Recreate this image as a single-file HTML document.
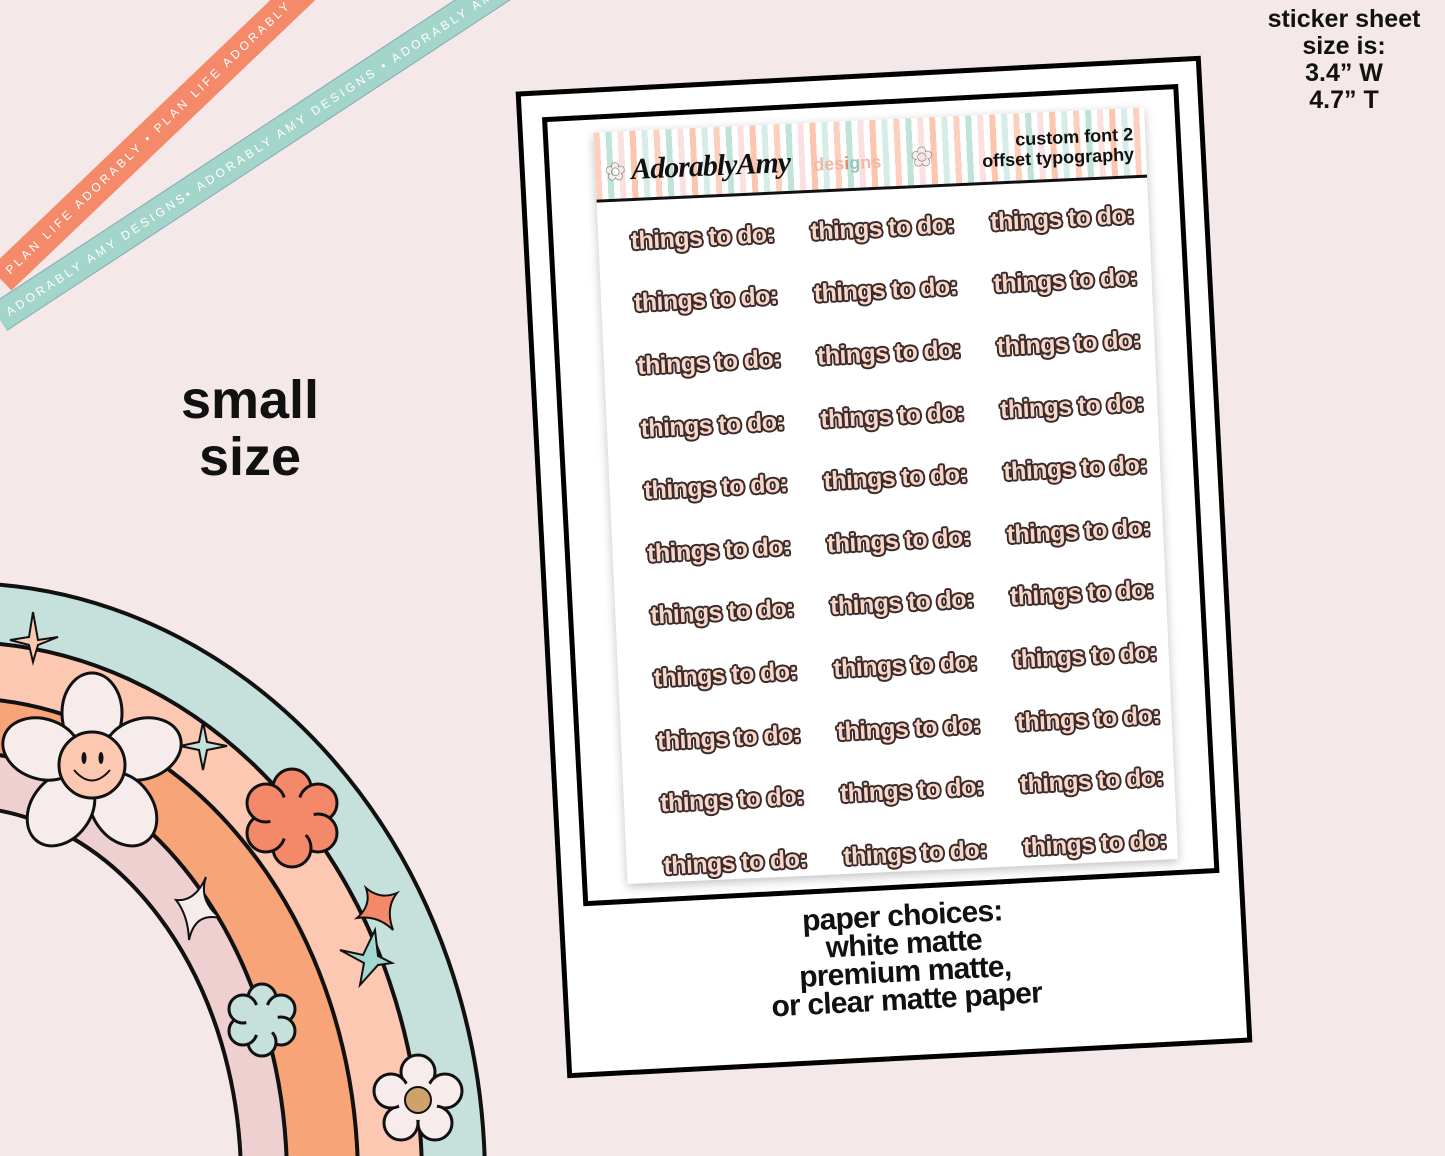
<!DOCTYPE html>
<html><head><meta charset="utf-8"><style>
*{margin:0;padding:0;box-sizing:border-box}
html,body{width:1445px;height:1156px;overflow:hidden}
body{background:#f5e8e8;position:relative;font-family:"Liberation Sans",sans-serif}
.rib{position:absolute;height:31px;color:#fff;font-size:12px;letter-spacing:3.2px;line-height:31px;white-space:nowrap;overflow:hidden;transform-origin:0 0;padding-left:10px}
.frame{position:absolute;left:541px;top:73px;width:686px;height:988px;background:#fff;border:5px solid #000;transform:rotate(-3deg)}
.inner{position:absolute;left:20px;top:22px;width:637px;height:790px;border:5px solid #000}
.sheet{position:absolute;left:68px;top:42px;width:551px;height:752px;background:#fff;box-shadow:0 3px 10px rgba(0,0,0,.25);transform:rotate(0.4deg)}
.hdr{position:absolute;left:0;top:0;width:551px;height:70px;border-bottom:3px solid #111;background:repeating-linear-gradient(90deg,#fcd0bc 0 6px,#fff 6px 12px,#bfe3d6 12px 18px,#fff 18px 24px,#fae0e0 24px 30px,#fff 30px 36px,#fdc5ae 36px 42px,#fff 42px 48px,#d6ece6 48px 54px,#fff 54px 60px)}
.t{position:absolute;font-weight:bold;font-size:25px;color:#f8d8cb;letter-spacing:-0.6px;white-space:nowrap;transform:translate(-50%,-50%);
text-shadow:-1.5px -1.5px 0 #3a2a2a,1.5px -1.5px 0 #3a2a2a,-1.5px 1.5px 0 #3a2a2a,1.5px 1.5px 0 #3a2a2a,0 2px 0 #3a2a2a,0 -2px 0 #3a2a2a,2px 0 0 #3a2a2a,-2px 0 0 #3a2a2a}
.cap{position:absolute;left:0;width:676px;top:825px;text-align:center;font-weight:bold;font-size:30px;line-height:28px;letter-spacing:-0.8px;color:#111}
.tr{position:absolute;left:1254px;width:180px;top:6px;text-align:center;font-weight:bold;font-size:25px;line-height:27px;color:#111}
.sm{position:absolute;left:150px;width:200px;top:372px;text-align:center;font-weight:bold;font-size:54px;line-height:57px;color:#111}
</style></head><body>

<div class="rib" style="background:#f48a69;left:-10px;top:268px;width:420px;transform:rotate(-43.7deg)">PLAN LIFE ADORABLY • PLAN LIFE ADORABLY • PLAN LIFE ADORABLY</div>
<div class="rib" style="background:#a3d5ca;left:-10px;top:305px;width:620px;transform:rotate(-33.3deg);border-top:1px solid #8ab;border-bottom:1px solid #8ab">ADORABLY AMY DESIGNS• ADORABLY AMY DESIGNS • ADORABLY AMY DESIGNS</div>

<svg width="1445" height="1156" style="position:absolute;left:0;top:0" viewBox="0 0 1445 1156">
<g stroke="#111" stroke-width="4">
<ellipse cx="-40" cy="1180" rx="525" ry="597" fill="#c6e0dc"/>
<ellipse cx="-40" cy="1180" rx="462" ry="538" fill="#fcc8b2"/>
<ellipse cx="-40" cy="1180" rx="398" ry="482" fill="#f6a478"/>
<ellipse cx="-40" cy="1180" rx="327" ry="428" fill="#efd0d0"/>
<ellipse cx="-40" cy="1180" rx="281" ry="373" fill="#f5e8e8"/>
</g>
<g stroke="#111" stroke-width="3">
<g transform="translate(92,765)" fill="#f7ecec">
<ellipse cx="0" cy="-52" rx="30" ry="40"/><ellipse cx="50" cy="-16" rx="40" ry="30" transform="rotate(-18 50 -16)"/><ellipse cx="31" cy="44" rx="30" ry="40" transform="rotate(-36 31 44)"/><ellipse cx="-31" cy="44" rx="30" ry="40" transform="rotate(36 -31 44)"/><ellipse cx="-50" cy="-16" rx="40" ry="30" transform="rotate(18 -50 -16)"/>
<circle r="33" fill="#fcc8b2"/>
<ellipse cx="-8" cy="-7" rx="2.5" ry="6" fill="#111" stroke="none"/><ellipse cx="9" cy="-7" rx="2.5" ry="6" fill="#111" stroke="none"/>
<path d="M-18 5 Q0 26 18 5" fill="none" stroke-width="2"/>
</g>
<g transform="translate(292,818)" fill="#f4896a">
<circle cx="0" cy="-30" r="19"/><circle cx="26" cy="-15" r="19"/><circle cx="26" cy="15" r="19"/><circle cx="0" cy="30" r="19"/><circle cx="-26" cy="15" r="19"/><circle cx="-26" cy="-15" r="19"/>
<circle r="22" stroke="none"/>
</g>
<g transform="translate(262,1020)" fill="#c6e0dc">
<circle cx="0" cy="-22" r="14"/><circle cx="19" cy="-11" r="14"/><circle cx="19" cy="11" r="14"/><circle cx="0" cy="22" r="14"/><circle cx="-19" cy="11" r="14"/><circle cx="-19" cy="-11" r="14"/>
<circle r="16" stroke="none"/>
</g>
<g transform="translate(418,1100)" fill="#f7ecec">
<circle cx="0" cy="-28" r="17"/><circle cx="27" cy="-9" r="17"/><circle cx="17" cy="23" r="17"/><circle cx="-17" cy="23" r="17"/><circle cx="-27" cy="-9" r="17"/>
<circle r="20" stroke="none"/><circle r="13" fill="#cfa26a" stroke-width="2"/>
</g>
<path d="M33 612 L38 640 L58 637 L38 645 L33 662 L29 645 L10 640 L29 637 Z" fill="#fcc8b2" stroke-width="2"/>
<path d="M203 722 L207 742 L227 746 L207 750 L203 770 L199 750 L180 746 L199 742 Z" fill="#c6e0dc" stroke-width="2"/>
<path d="M397 893 Q385 908 393 930 Q378 915 357 918 Q372 905 366 888 Q380 900 397 893 Z" fill="#f4896a" stroke-width="2"/>
<path d="M206 877 Q198 900 220 918 Q195 912 189 940 Q188 915 176 900 Q195 902 206 877 Z" fill="#f7ecec" stroke-width="2"/>
<path d="M375 930 L378 956 L392 963 L378 965 L360 985 L364 963 L340 950 L363 955 Z" fill="#a3d8d0" stroke-width="2"/>
</g>
</svg>

<div class="tr">sticker sheet<br>size is:<br>3.4” W<br>4.7” T</div>
<div class="sm">small<br>size</div>

<div class="frame">
 <div class="inner"></div>
 <div class="sheet">
  <div class="hdr">
   <div style="position:absolute;left:10px;top:26px;font-size:24px;color:#f7ecec;text-shadow:0 0 1px #000,0 0 1px #000">✿</div>
   <div style="position:absolute;left:36px;top:22px;font-family:'Liberation Serif',serif;font-style:italic;font-weight:bold;font-size:30px;color:#111;letter-spacing:-1px">AdorablyAmy</div>
   <div style="position:absolute;left:218px;top:32px;font-weight:bold;font-size:18px;color:#f2b7a5">des<span style="color:#e58a5d">i</span><span style="color:#8fcab9">g</span>ns</div>
   <div style="position:absolute;left:316px;top:24px;font-size:26px;color:#f7ecec;text-shadow:0 0 1px #000,0 0 1px #000">✿</div>
   <div style="position:absolute;right:12px;top:16px;text-align:right;font-weight:bold;font-size:18px;line-height:20px;color:#111">custom font 2<br>offset typography</div>
  </div>
 </div>
 <div style="position:absolute;left:0;top:0;width:676px;height:978px">
  <div class="t" style="left:174px;top:151px">things to do:</div><div class="t" style="left:354px;top:151px">things to do:</div><div class="t" style="left:534px;top:151px">things to do:</div>
  <div class="t" style="left:174px;top:213px">things to do:</div><div class="t" style="left:354px;top:213px">things to do:</div><div class="t" style="left:534px;top:213px">things to do:</div>
  <div class="t" style="left:174px;top:276px">things to do:</div><div class="t" style="left:354px;top:276px">things to do:</div><div class="t" style="left:534px;top:276px">things to do:</div>
  <div class="t" style="left:174px;top:339px">things to do:</div><div class="t" style="left:354px;top:339px">things to do:</div><div class="t" style="left:534px;top:339px">things to do:</div>
  <div class="t" style="left:174px;top:401px">things to do:</div><div class="t" style="left:354px;top:401px">things to do:</div><div class="t" style="left:534px;top:401px">things to do:</div>
  <div class="t" style="left:174px;top:464px">things to do:</div><div class="t" style="left:354px;top:464px">things to do:</div><div class="t" style="left:534px;top:464px">things to do:</div>
  <div class="t" style="left:174px;top:526px">things to do:</div><div class="t" style="left:354px;top:526px">things to do:</div><div class="t" style="left:534px;top:526px">things to do:</div>
  <div class="t" style="left:174px;top:589px">things to do:</div><div class="t" style="left:354px;top:589px">things to do:</div><div class="t" style="left:534px;top:589px">things to do:</div>
  <div class="t" style="left:174px;top:652px">things to do:</div><div class="t" style="left:354px;top:652px">things to do:</div><div class="t" style="left:534px;top:652px">things to do:</div>
  <div class="t" style="left:174px;top:714px">things to do:</div><div class="t" style="left:354px;top:714px">things to do:</div><div class="t" style="left:534px;top:714px">things to do:</div>
  <div class="t" style="left:174px;top:777px">things to do:</div><div class="t" style="left:354px;top:777px">things to do:</div><div class="t" style="left:534px;top:777px">things to do:</div>
 </div>
 <div class="cap">paper choices:<br>white matte<br>premium matte,<br>or clear matte paper</div>
</div>
</body></html>
